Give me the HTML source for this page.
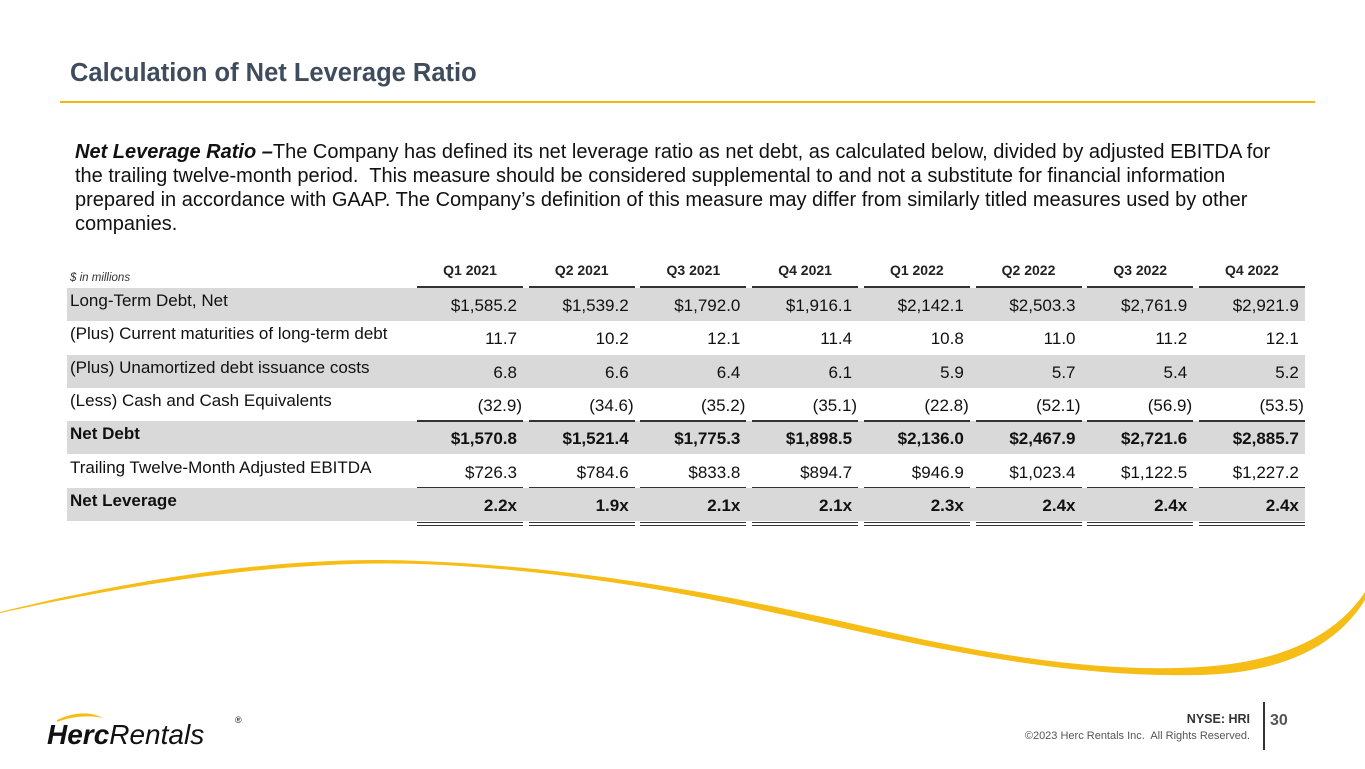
<!DOCTYPE html>
<html><head><meta charset="utf-8"><style>
body{margin:0;width:1365px;height:769px;position:relative;overflow:hidden;background:#fff;font-family:"Liberation Sans",Arial,sans-serif;color:#1a1a1a}
.a{position:absolute;white-space:nowrap}
</style></head><body>
<div class="a" style="left:70px;top:59px;font-size:25.5px;font-weight:bold;color:#3e4c5e">Calculation of Net Leverage Ratio</div>
<div class="a" style="left:60px;top:101px;width:1255px;height:1.5px;background:#f2b70e"></div>
<div class="a" style="left:75px;top:140px;width:1200px;white-space:normal;font-size:20px;line-height:24px;color:#111"><b><i>Net Leverage Ratio –</i></b>The Company has defined its net leverage ratio as net debt, as calculated below, divided by adjusted EBITDA for the trailing twelve-month period.&nbsp; This measure should be considered supplemental to and not a substitute for financial information prepared in accordance with GAAP. The Company’s definition of this measure may differ from similarly titled measures used by other companies.</div>
<div class="a" style="left:70px;top:272px;font-size:11.5px;font-style:italic;color:#333">$ in millions</div>
<div id="tbl"></div>
<svg class="a" style="left:0;top:0" width="1365" height="769">
<path d="M0,612 C150,575 300,555 420,561 C600,568 750,600 880,630 C1020,662 1120,672 1200,667 C1290,662 1340,630 1365,592 L1365,600 C1335,648 1280,673 1200,675 C1110,677 1010,665 870,634 C740,605 600,571 420,564 C300,560 160,578 0,613 Z" fill="#f6bd16"/>
</svg>
<svg class="a" style="left:45px;top:706px" width="205" height="45">
<path d="M12,14 C28,6 45,5 58,12 C44,9 28,10 12,16 Z" fill="#f6bd16"/>
<text x="2" y="38" font-family="Liberation Sans" font-size="28" font-style="italic" fill="#111"><tspan font-weight="bold">Herc</tspan><tspan>Rentals</tspan></text>
<text x="190" y="17" font-family="Liberation Sans" font-size="9" fill="#111">®</text>
</svg>
<div class="a" style="right:115px;top:712px;font-size:12.5px;font-weight:bold;color:#333">NYSE: HRI</div>
<div class="a" style="right:115px;top:730px;font-size:11px;color:#555">©2023 Herc Rentals Inc.&nbsp; All Rights Reserved.</div>
<div class="a" style="left:1263px;top:702px;width:1.5px;height:48px;background:#333"></div>
<div class="a" style="left:1270px;top:712px;font-size:16px;font-weight:bold;color:#555">30</div>
<script>
const quarters=["Q1 2021","Q2 2021","Q3 2021","Q4 2021","Q1 2022","Q2 2022","Q3 2022","Q4 2022"];
const rowLabels=["Long-Term Debt, Net","(Plus) Current maturities of long-term debt","(Plus) Unamortized debt issuance costs","(Less) Cash and Cash Equivalents","Net Debt","Trailing Twelve-Month Adjusted EBITDA","Net Leverage"];
const longTermDebt=["$1,585.2","$1,539.2","$1,792.0","$1,916.1","$2,142.1","$2,503.3","$2,761.9","$2,921.9"];
const currentMaturities=["11.7","10.2","12.1","11.4","10.8","11.0","11.2","12.1"];
const issuanceCosts=["6.8","6.6","6.4","6.1","5.9","5.7","5.4","5.2"];
const cash=["(32.9)","(34.6)","(35.2)","(35.1)","(22.8)","(52.1)","(56.9)","(53.5)"];
const netDebt=["$1,570.8","$1,521.4","$1,775.3","$1,898.5","$2,136.0","$2,467.9","$2,721.6","$2,885.7"];
const ebitda=["$726.3","$784.6","$833.8","$894.7","$946.9","$1,023.4","$1,122.5","$1,227.2"];
const leverage=["2.2x","1.9x","2.1x","2.1x","2.3x","2.4x","2.4x","2.4x"];
const rows=[longTermDebt,currentMaturities,issuanceCosts,cash,netDebt,ebitda,leverage];
const bold=[false,false,false,false,true,false,true];
const tbl=document.getElementById('tbl');
function add(css,txt){const d=document.createElement('div');d.className='a';d.style.cssText=css;if(txt!=null)d.textContent=txt;tbl.appendChild(d);return d;}
const top0=288,rh=33.3,colX=i=>417+i*111.7,colW=106;
quarters.forEach((q,i)=>{
  const h=add(`left:${colX(i)}px;top:262px;width:${colW}px;text-align:center;font-size:14px;font-weight:bold;color:#222`,q);
  
  
  const u=add(`left:${colX(i)}px;top:286px;width:${colW}px;height:2px;background:#333`);
  
  
});
rowLabels.forEach((lab,r)=>{
  const y=top0+r*rh;
  if(r%2===0){const b=add(`left:67px;top:${y}px;width:1238px;height:${rh}px;background:#d9d9d9`);
    
    }
  const l=add(`left:70px;top:${y+3}px;font-size:17px;${bold[r]?'font-weight:bold;':''}color:#111`,lab);
  
  
  rows[r].forEach((v,i)=>{
    const par=v.startsWith('(');
    const c=add(`left:${colX(i)-20}px;top:${y+8}px;width:${colW+20-(par?1:6)}px;text-align:right;font-size:17px;${bold[r]?'font-weight:bold;':''}color:#111`,v);
    
    
  });
});
quarters.forEach((q,i)=>{
  [top0+4*rh-1,top0+6*rh-1].forEach(y=>{const u=add(`left:${colX(i)}px;top:${y}px;width:${colW}px;height:1.5px;background:#333`);
    
    });
  const d=add(`left:${colX(i)}px;top:${top0+7*rh+1}px;width:${colW}px;height:2px;border-top:1.5px solid #333;border-bottom:1.5px solid #333`);
  
  
});
</script>
</body></html>
